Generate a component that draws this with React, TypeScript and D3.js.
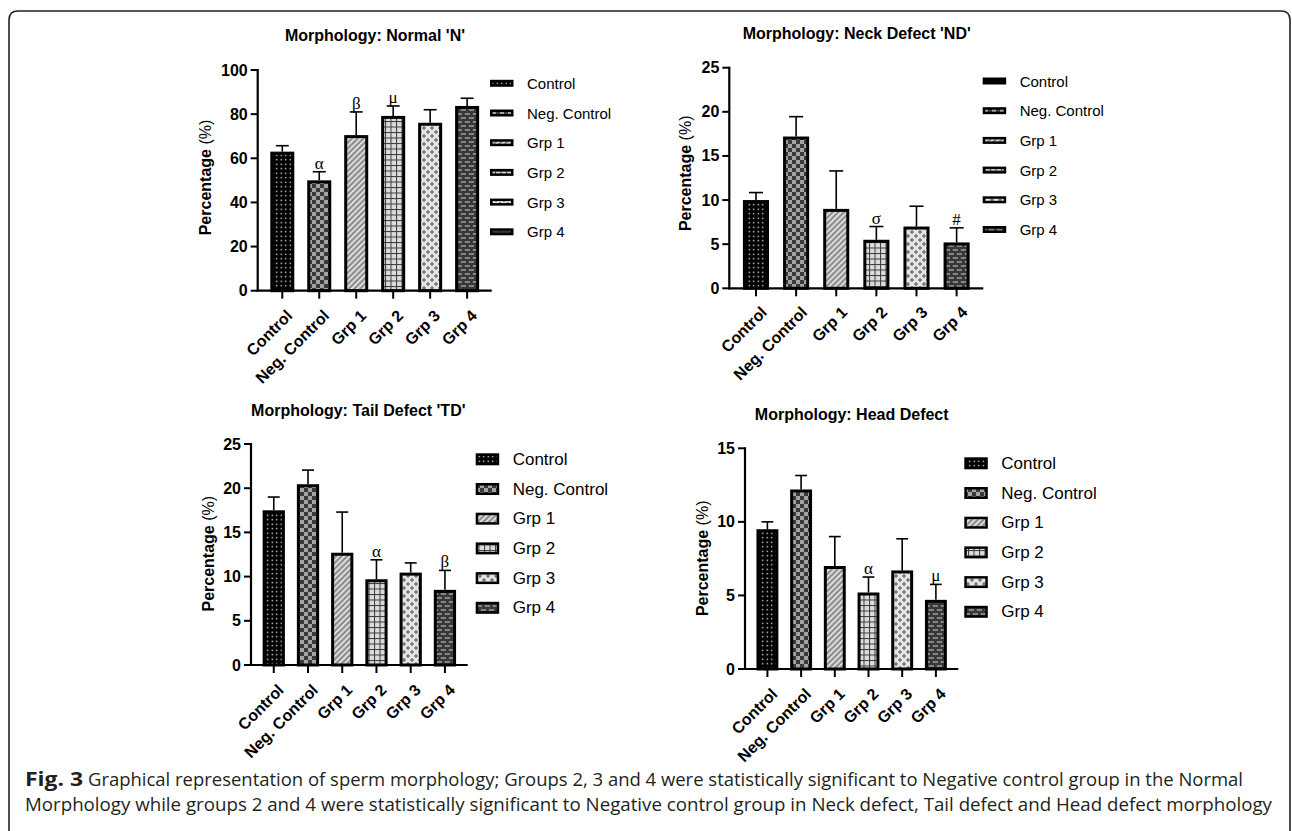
import React from "react";
import * as d3 from "d3";

const categories = ["Control", "Neg. Control", "Grp 1", "Grp 2", "Grp 3", "Grp 4"];

const normalMean = [63, 50, 70.5, 79.2, 76.1, 83.7];
const normalSD = [2.7, 3.9, 10.5, 4.5, 5.9, 3.5];
const normalMarks = ["", "α", "β", "μ", "", ""];
const normalTicks = [0, 20, 40, 60, 80, 100];

const neckMean = [10, 17.2, 9, 5.5, 7, 5.2];
const neckSD = [0.85, 2.25, 4.3, 1.5, 2.3, 1.65];
const neckMarks = ["", "", "", "σ", "", "#"];
const neckTicks = [0, 5, 10, 15, 20, 25];

const tailMean = [17.5, 20.45, 12.7, 9.7, 10.45, 8.5];
const tailSD = [1.5, 1.6, 4.6, 2.2, 1.1, 2.2];
const tailMarks = ["", "", "", "α", "", "β"];
const tailTicks = [0, 5, 10, 15, 20, 25];

const headMean = [9.5, 12.2, 7, 5.2, 6.7, 4.7];
const headSD = [0.5, 0.95, 2.0, 1.05, 2.15, 1.05];
const headMarks = ["", "", "", "α", "", "μ"];
const headTicks = [0, 5, 10, 15];

const captionBold = "Fig. 3";
const captionLine1 =
  "Graphical representation of sperm morphology; Groups 2, 3 and 4 were statistically significant to Negative control group in the Normal";
const captionLine2 =
  "Morphology while groups 2 and 4 were statistically significant to Negative control group in Neck defect, Tail defect and Head defect morphology";

const SANS = "'Liberation Sans', Arial, Helvetica, sans-serif";
const SERIF = "'Liberation Serif', 'Times New Roman', serif";

const layouts = [
  { x0: 257.7, x1: 491.7, yTop: 70, yBot: 290.7, titleX: 375, titleY: 35, ytX: 205, ytY: 177.5, legX: 490, legY: 83.3, legFont: 15, swH: 7, lblDx: 11, lblDy: 26 },
  { x0: 729.3, x1: 983.3, yTop: 67.7, yBot: 288.3, titleX: 856.7, titleY: 33, ytX: 685, ytY: 173.3, legX: 982.7, legY: 81, legFont: 15, swH: 7, lblDx: 12, lblDy: 25 },
  { x0: 251, x1: 467.7, yTop: 444, yBot: 665, titleX: 358.3, titleY: 410, ytX: 208.3, ytY: 553.7, legX: 475.7, legY: 459.3, legFont: 17, swH: 12, lblDx: 11, lblDy: 26 },
  { x0: 745, x1: 958.3, yTop: 448.3, yBot: 669, titleX: 851.7, titleY: 414.3, ytX: 701.7, ytY: 558.3, legX: 964.3, legY: 463.3, legFont: 17, swH: 12, lblDx: 11, lblDy: 26 },
];

function Patterns() {
  return (
    <defs>
      <pattern id="p0" patternUnits="userSpaceOnUse" width="4.5" height="4.5">
        <rect width="4.5" height="4.5" fill="#000" />
        <rect x="1.6" y="1.6" width="1.3" height="1.3" fill="#fff" />
      </pattern>
      <pattern id="p1" patternUnits="userSpaceOnUse" width="8" height="8">
        <rect width="8" height="8" fill="#3a3a3a" />
        <rect x="4" y="0" width="4" height="4" fill="#a3a3a3" />
        <rect x="0" y="4" width="4" height="4" fill="#a3a3a3" />
      </pattern>
      <pattern id="p2" patternUnits="userSpaceOnUse" width="4" height="4" patternTransform="rotate(45)">
        <rect width="4" height="4" fill="#8e8e8e" />
        <rect x="0" y="0" width="1.5" height="4" fill="#f2f2f2" />
      </pattern>
      <pattern id="p3" patternUnits="userSpaceOnUse" width="5.5" height="5.5">
        <rect width="5.5" height="5.5" fill="#dcdcdc" />
        <rect x="0" y="0" width="5.5" height="1" fill="#3a3a3a" />
        <rect x="0" y="0" width="1" height="5.5" fill="#3a3a3a" />
      </pattern>
      <pattern id="p4" patternUnits="userSpaceOnUse" width="8" height="8">
        <rect width="8" height="8" fill="#e8e8e8" />
        <path d="M4 1.8 L6.2 4 L4 6.2 L1.8 4 Z" fill="#7a7a7a" />
        <path d="M0 -2.2 L2.2 0 L0 2.2 L-2.2 0 Z" fill="#7a7a7a" />
        <path d="M8 -2.2 L10.2 0 L8 2.2 L5.8 0 Z" fill="#7a7a7a" />
        <path d="M0 5.8 L2.2 8 L0 10.2 L-2.2 8 Z" fill="#7a7a7a" />
        <path d="M8 5.8 L10.2 8 L8 10.2 L5.8 8 Z" fill="#7a7a7a" />
      </pattern>
      <pattern id="p5" patternUnits="userSpaceOnUse" width="8" height="8">
        <rect width="8" height="8" fill="#383838" />
        <rect x="0.8" y="1.5" width="5.2" height="1" fill="#cfcfcf" />
        <rect x="4.8" y="5.5" width="3.2" height="1" fill="#cfcfcf" />
        <rect x="0" y="5.5" width="2" height="1" fill="#cfcfcf" />
      </pattern>
    </defs>
  );
}

type PanelProps = {
  title: string;
  mean: number[];
  sd: number[];
  marks: string[];
  ticks: number[];
  layout: any;
};

function Panel({ title, mean, sd, marks, ticks, layout }: PanelProps) {
  const L = layout;
  const yMax = ticks[ticks.length - 1];
  const y = d3.scaleLinear().domain([0, yMax]).range([L.yBot, L.yTop]);
  const x = d3
    .scaleBand<string>()
    .domain(categories)
    .range([L.x0, L.x1])
    .paddingInner(0.35)
    .paddingOuter(0.34);
  const bw = x.bandwidth();
  const legStep = 29.7;

  return (
    <g>
      <text x={L.titleX} y={L.titleY} textAnchor="middle" dominantBaseline="central"
        fontFamily={SANS} fontWeight="bold" fontSize={16} fill="#000">{title}</text>

      <text transform={`translate(${L.ytX},${L.ytY}) rotate(-90)`} textAnchor="middle"
        dominantBaseline="central" fontFamily={SANS} fontSize={16} fill="#000">
        <tspan fontWeight="bold">Percentage</tspan>
        <tspan> (%)</tspan>
      </text>

      {categories.map((c, i) => {
        const bx = x(c) as number;
        const top = y(mean[i]);
        return (
          <rect key={"b" + i} x={bx + 1.5} y={top + 1.5} width={bw - 3}
            height={Math.max(0, L.yBot - top - 1.5)} fill={`url(#p${i})`}
            stroke="#000" strokeWidth={3} />
        );
      })}

      {categories.map((c, i) => {
        const cx = (x(c) as number) + bw / 2;
        const top = y(mean[i]);
        const et = y(mean[i] + sd[i]);
        const cap = bw * 0.27;
        return (
          <g key={"e" + i} stroke="#000" strokeWidth={1.6}>
            <line x1={cx} x2={cx} y1={top} y2={et} />
            <line x1={cx - cap} x2={cx + cap} y1={et} y2={et} />
          </g>
        );
      })}

      {categories.map((c, i) =>
        marks[i] ? (
          <text key={"m" + i} x={(x(c) as number) + bw / 2} y={y(mean[i] + sd[i]) - 3}
            textAnchor="middle" fontFamily={SERIF} fontSize={17} fill="#000">{marks[i]}</text>
        ) : null
      )}

      <line x1={L.x0} x2={L.x0} y1={L.yTop - 1} y2={L.yBot + 1} stroke="#000" strokeWidth={2.2} />
      {ticks.map((t) => (
        <g key={"yt" + t}>
          <line x1={L.x0 - 7} x2={L.x0} y1={y(t)} y2={y(t)} stroke="#000" strokeWidth={2} />
          <text x={L.x0 - 10} y={y(t)} textAnchor="end" dominantBaseline="central"
            fontFamily={SANS} fontWeight="bold" fontSize={16} fill="#000">{t}</text>
        </g>
      ))}

      <line x1={L.x0 - 1} x2={L.x1} y1={L.yBot} y2={L.yBot} stroke="#000" strokeWidth={2.2} />
      {categories.map((c, i) => {
        const cx = (x(c) as number) + bw / 2;
        return (
          <g key={"xt" + i}>
            <line x1={cx} x2={cx} y1={L.yBot} y2={L.yBot + 8} stroke="#000" strokeWidth={2} />
            <text transform={`translate(${cx + L.lblDx},${L.yBot + L.lblDy}) rotate(-45)`}
              textAnchor="end" fontFamily={SANS} fontWeight="bold" fontSize={16} fill="#000">{c}</text>
          </g>
        );
      })}

      {categories.map((c, i) => {
        const cy = L.legY + i * legStep;
        return (
          <g key={"l" + i}>
            <rect x={L.legX + 1.25} y={cy - L.swH / 2 + 1.25} width={21} height={L.swH - 2.5}
              fill={`url(#p${i})`} stroke="#000" strokeWidth={2.5} />
            <text x={L.legX + 37} y={cy} dominantBaseline="central" fontFamily={SANS}
              fontSize={L.legFont} fill="#000">{c}</text>
          </g>
        );
      })}
    </g>
  );
}

export default function App() {
  return (
    <svg width={1292} height={831} style={{ position: "absolute", left: 0, top: 0, background: "#fff" }}
      xmlns="http://www.w3.org/2000/svg">
      <Patterns />
      <rect x={0} y={0} width={1292} height={831} fill="#fff" />
      <path d="M9 840 L9 20 Q9 11 18 11 L1281 11 Q1290 11 1290 20 L1290 840" fill="none"
        stroke="#222" strokeWidth={1.6} />
      <Panel title="Morphology: Normal 'N'" mean={normalMean} sd={normalSD} marks={normalMarks}
        ticks={normalTicks} layout={layouts[0]} />
      <Panel title="Morphology: Neck Defect 'ND'" mean={neckMean} sd={neckSD} marks={neckMarks}
        ticks={neckTicks} layout={layouts[1]} />
      <Panel title="Morphology: Tail Defect 'TD'" mean={tailMean} sd={tailSD} marks={tailMarks}
        ticks={tailTicks} layout={layouts[2]} />
      <Panel title="Morphology: Head Defect" mean={headMean} sd={headSD} marks={headMarks}
        ticks={headTicks} layout={layouts[3]} />

      <text x={25} y={786} fontFamily="'Open Sans', sans-serif" fontWeight="bold" fontSize={19}
        fill="#231f20" textLength={58} lengthAdjust="spacingAndGlyphs">{captionBold}</text>
      <text x={88} y={786} fontFamily="'Open Sans', sans-serif" fontSize={19} fill="#231f20"
        textLength={1155} lengthAdjust="spacingAndGlyphs">{captionLine1}</text>
      <text x={25} y={811} fontFamily="'Open Sans', sans-serif" fontSize={19} fill="#231f20"
        textLength={1247} lengthAdjust="spacingAndGlyphs">{captionLine2}</text>
    </svg>
  );
}
